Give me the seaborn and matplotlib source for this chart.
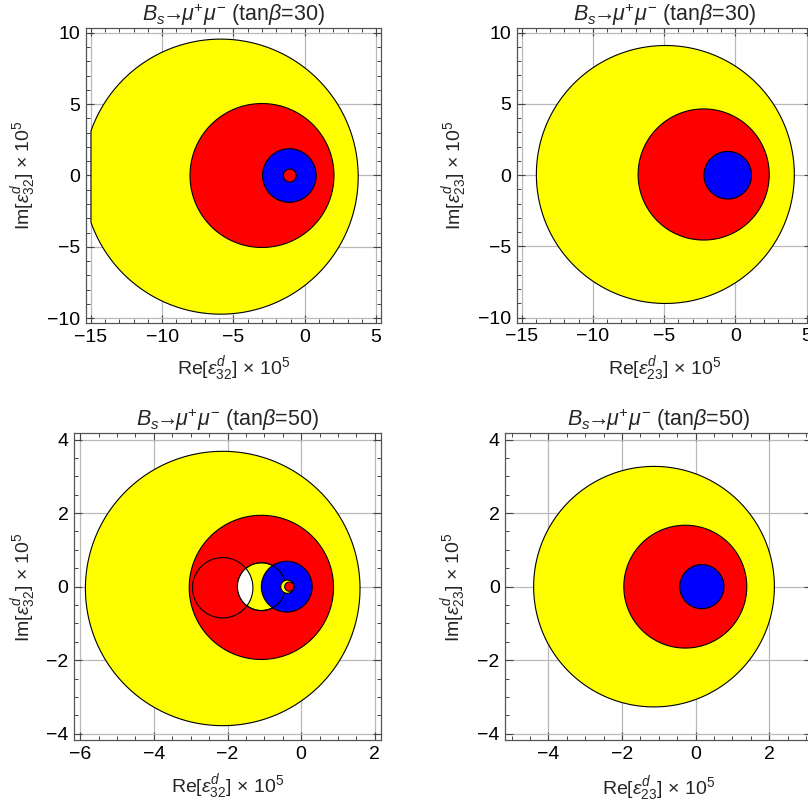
import numpy as np
import matplotlib
matplotlib.use("Agg")
import matplotlib.pyplot as plt
from matplotlib.patches import Circle, Polygon
from matplotlib.ticker import MultipleLocator
import seaborn as sns

# ---------------- data ----------------
tan_beta = [30, 30, 50, 50]
eps_index = ["32", "23", "32", "23"]
x_limits = [(-15.35, 5.35), (-15.35, 5.35), (-6.17, 2.17), (-5.17, 3.17)]
y_limits = [(-10.35, 10.35), (-10.35, 10.35), (-4.17, 4.17), (-4.17, 4.17)]
major_step = [5, 5, 2, 2]
minor_step = [1, 1, 0.5, 0.5]
domain_xmin = [-15, -15, -6, -5]      # scan range of the region plot

# circles: (centre x, centre y, radius)
p1_yellow = (-5.9, -0.08, 9.65)
p1_red = (-3.0, 0.0, 5.05)
p1_blue = (-1.08, 0.0, 1.88)
p1_red_core = (-1.05, 0.0, 0.45)

p2_yellow = (-4.92, 0.05, 9.05)
p2_red = (-2.23, 0.05, 4.6)
p2_blue = (-0.54, 0.0, 1.67)

p3_yellow = (-2.13, -0.05, 3.73)
p3_red = (-1.08, -0.02, 1.96)
p3_ring = (-2.13, -0.03, 0.82)
p3_yellow_mid = (-1.08, 0.0, 0.65)
p3_blue = (-0.39, 0.0, 0.69)
p3_yellow_core = (-0.375, 0.0, 0.18)
p3_red_core = (-0.32, 0.0, 0.125)

p4_yellow = (-1.13, 0.0, 3.27)
p4_red = (-0.28, 0.0, 1.67)
p4_blue = (0.17, 0.0, 0.6)

YEL, RED, BLU = "#FFFF00", "#FF0000", "#0000FF"

# ---------------- style ----------------
sns.set_style("ticks")
plt.rcParams["font.family"] = ["Liberation Sans", "DejaVu Sans"]
plt.rcParams["mathtext.fontset"] = "custom"
plt.rcParams["mathtext.rm"] = "Liberation Sans"
plt.rcParams["mathtext.it"] = "Liberation Sans:italic"
plt.rcParams["mathtext.bf"] = "Liberation Sans:bold"
plt.rcParams["mathtext.fallback"] = "stixsans"
plt.rcParams["axes.unicode_minus"] = True

fig = plt.figure(figsize=(8.08, 8.05), dpi=100)
W, H = 808.0, 805.0
# axes boxes in pixels: left, top, width, height
boxes = [(86, 28, 295, 295), (516.7, 27.7, 295, 295),
         (74, 433.3, 307, 306.7), (505.3, 433.3, 307, 306.7)]
ylab_x = [-0.163, -0.163, -0.118, -0.12]
xlab_y = [-0.105, -0.105, -0.104, -0.112]

axes = []
for (l, t, w, h) in boxes:
    axes.append(fig.add_axes([l / W, (H - t - h) / H, w / W, h / H]))


def disk(ax, c, color, z, xmin=None, lw=0.8, fill=True):
    cx, cy, r = c
    th = np.linspace(0, 2 * np.pi, 721)
    xs = cx + r * np.cos(th)
    ys = cy + r * np.sin(th)
    if xmin is not None:
        xs = np.maximum(xs, xmin)
    p = Polygon(np.column_stack([xs, ys]), closed=True,
                facecolor=color if fill else "none",
                edgecolor="black", lw=lw, zorder=z)
    ax.add_patch(p)
    return p


# panel 1
ax = axes[0]
disk(ax, p1_yellow, YEL, 2, xmin=domain_xmin[0])
disk(ax, p1_red, RED, 3)
disk(ax, p1_blue, BLU, 4)
disk(ax, p1_red_core, RED, 5)

# panel 2
ax = axes[1]
disk(ax, p2_yellow, YEL, 2)
disk(ax, p2_red, RED, 3)
disk(ax, p2_blue, BLU, 4)

# panel 3
ax = axes[2]
disk(ax, p3_yellow, YEL, 2)
disk(ax, p3_red, RED, 3)
disk(ax, p3_yellow_mid, YEL, 4)
ring_clip = Circle(p3_ring[:2], p3_ring[2], transform=ax.transData)
lens = disk(ax, p3_yellow_mid, "white", 5, lw=0)
lens.set_clip_path(ring_clip)
disk(ax, p3_ring, None, 6, fill=False)
disk(ax, p3_blue, BLU, 7)
disk(ax, p3_yellow_mid, None, 8, fill=False)
disk(ax, p3_yellow_core, YEL, 9)
disk(ax, p3_red_core, RED, 10)

# panel 4
ax = axes[3]
disk(ax, p4_yellow, YEL, 2)
disk(ax, p4_red, RED, 3)
disk(ax, p4_blue, BLU, 4)

for i, ax in enumerate(axes):
    ax.set_xlim(*x_limits[i])
    ax.set_ylim(*y_limits[i])
    ax.xaxis.set_major_locator(MultipleLocator(major_step[i]))
    ax.yaxis.set_major_locator(MultipleLocator(major_step[i]))
    ax.xaxis.set_minor_locator(MultipleLocator(minor_step[i]))
    ax.yaxis.set_minor_locator(MultipleLocator(minor_step[i]))
    ax.grid(True, which="major", color="#b9b9b9", lw=0.9, zorder=0)
    ax.set_axisbelow(True)
    ax.tick_params(which="both", direction="in", top=True, right=True,
                   colors="#444444", labelcolor="black", labelsize=14)
    ax.tick_params(which="major", length=5.5, width=0.8, pad=4)
    ax.tick_params(which="minor", length=2.8, width=0.7)
    for s in ax.spines.values():
        s.set_color("#555555")
        s.set_linewidth(0.9)
    ax.set_title(r"$B_s\!\!\rightarrow\!\!\mu^{+}\mu^{-}$ (tan$\beta$=%d)" % tan_beta[i],
                 fontsize=15.5, pad=5)
    ax.set_xlabel(r"Re$[\varepsilon^{d}_{%s}]$ × 10$^{5}$" % eps_index[i], fontsize=14)
    ax.set_ylabel(r"Im$[\varepsilon^{d}_{%s}]$ × 10$^{5}$" % eps_index[i], fontsize=14)
    ax.xaxis.set_label_coords(0.5, xlab_y[i])
    ax.yaxis.set_label_coords(ylab_x[i], 0.5)

fig.savefig("out.png", dpi=100)
